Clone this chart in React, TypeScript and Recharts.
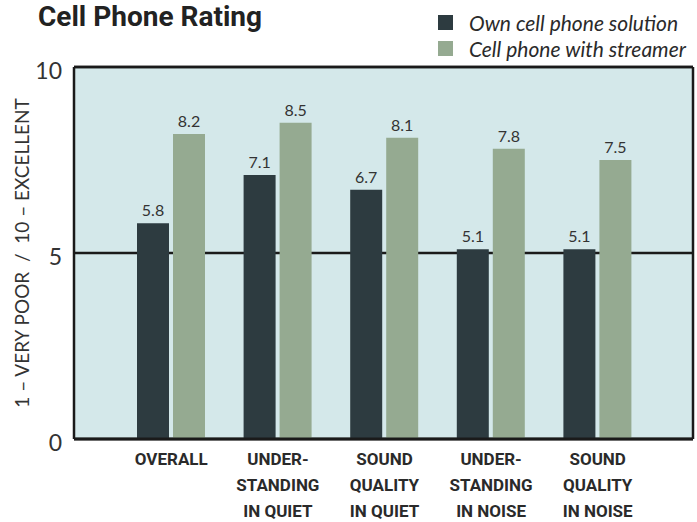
import { BarChart, Bar, XAxis, YAxis, CartesianGrid, LabelList, Label, ReferenceLine } from 'recharts';

const categories = ['OVERALL', 'UNDER-\nSTANDING\nIN QUIET', 'SOUND\nQUALITY\nIN QUIET', 'UNDER-\nSTANDING\nIN NOISE', 'SOUND\nQUALITY\nIN NOISE'];
const ownPhone = [5.8, 7.1, 6.7, 5.1, 5.1];
const withStreamer = [8.2, 8.5, 8.1, 7.8, 7.5];
const seriesNames = ['Own cell phone solution', 'Cell phone with streamer'];
const yTicks = [0, 5, 10];
const yTitle = '1 – VERY POOR\u00a0\u00a0/\u00a0\u00a010 – EXCELLENT';

const DARK = '#2d3b40';
const GREEN = '#95aa91';
const FRAME = '#1a1a1a';
const SANS = 'Roboto, sans-serif';

const data = categories.map((c, i) => ({ name: c, own: ownPhone[i], streamer: withStreamer[i] }));

const CategoryTick = (props: any) => {
  const { x, y, payload } = props;
  const lines = String(payload.value).split('\n');
  return (
    <text x={x} y={y} textAnchor="middle" fill="#2a2a2a" fontFamily={SANS} fontWeight="bold" fontSize={17}>
      {lines.map((l, i) => (
        <tspan key={i} x={x} dy={i === 0 ? 18 : 26}>{l}</tspan>
      ))}
    </text>
  );
};

const ValueTick = (props: any) => {
  const { x, y, payload } = props;
  return (
    <text x={x} y={y + 4} dy="0.355em" textAnchor="end" fill="#333" fontFamily="Lato, sans-serif" fontSize={23}>
      {payload.value}
    </text>
  );
};

export default function App() {
  const colors = [DARK, GREEN];
  return (
    <div style={{ position: 'absolute', left: 0, top: 0, width: 697, height: 522, background: '#fff' }}>
      <div style={{ position: 'absolute', left: 38, top: 3, lineHeight: '28px', fontFamily: SANS, fontWeight: 'bold', fontSize: 28, color: '#222', whiteSpace: 'nowrap' }}>
        Cell Phone Rating
      </div>
      <div style={{ position: 'absolute', left: 438, top: 9, fontFamily: 'Lato, sans-serif', fontStyle: 'italic', fontSize: 21, color: '#2a2a2a' }}>
        {seriesNames.map((s, i) => (
          <div key={s} style={{ display: 'flex', alignItems: 'center', height: 26, whiteSpace: 'nowrap' }}>
            <span style={{ display: 'inline-block', width: 15, height: 15, background: colors[i], marginRight: 16 }} />
            <span>{s}</span>
          </div>
        ))}
      </div>
      <BarChart width={697} height={522} data={data} margin={{ top: 67, right: 3, bottom: 0, left: 30 }} barSize={32} barGap={4}>
        <CartesianGrid fill="#d4e8ea" stroke={FRAME} strokeWidth={2.5} vertical={false} fillOpacity={1} />
        <XAxis dataKey="name" interval={0} padding={{ left: 44, right: 42 }} tickLine={false} axisLine={{ stroke: FRAME, strokeWidth: 3 }} tick={<CategoryTick />} height={83} />
        <YAxis domain={[0, 10]} ticks={yTicks} width={44} tickLine={false} tickMargin={6} axisLine={{ stroke: FRAME, strokeWidth: 2.5 }} tick={<ValueTick />}>
          <Label value={yTitle} angle={-90} position="insideLeft" offset={-8} style={{ textAnchor: 'middle', fill: '#333', fontSize: 19, fontFamily: 'Lato, sans-serif' }} />
        </YAxis>
        <YAxis yAxisId="right" orientation="right" domain={[0, 10]} width={1} tick={false} tickLine={false} axisLine={{ stroke: FRAME, strokeWidth: 2.5 }} />
        <ReferenceLine y={10} stroke={FRAME} strokeWidth={2.5} />
        <Bar dataKey="own" name={seriesNames[0]} fill={DARK} isAnimationActive={false}>
          <LabelList dataKey="own" position="top" offset={7} fill="#333" fontSize={16} fontFamily="Lato, sans-serif" />
        </Bar>
        <Bar dataKey="streamer" name={seriesNames[1]} fill={GREEN} isAnimationActive={false}>
          <LabelList dataKey="streamer" position="top" offset={7} fill="#333" fontSize={16} fontFamily="Lato, sans-serif" />
        </Bar>
      </BarChart>
    </div>
  );
}
